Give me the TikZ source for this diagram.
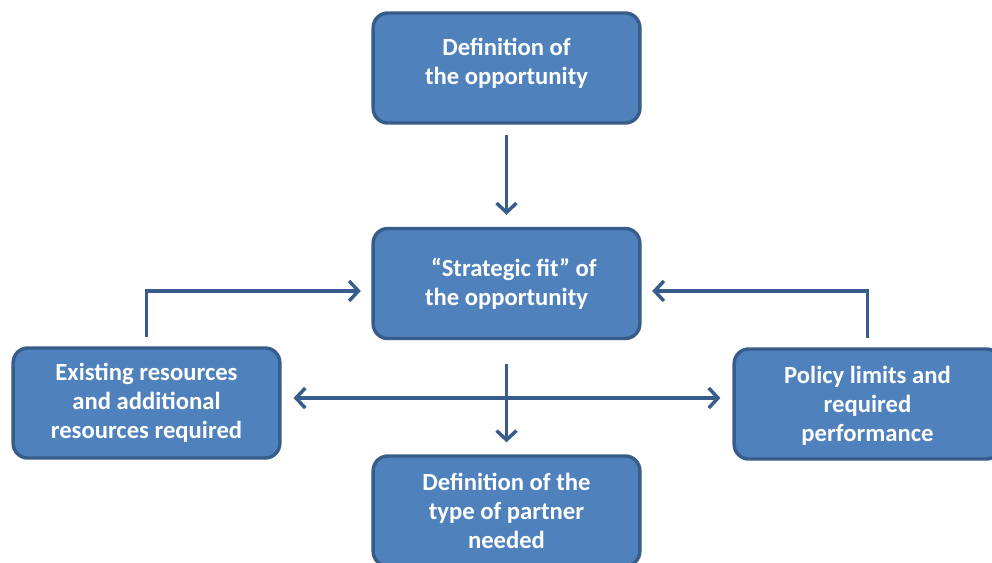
\documentclass[tikz,border=0pt]{standalone}
\usepackage{fontspec}
\setmainfont{Carlito}
\usepackage{tikz}
\usetikzlibrary{arrows.meta, positioning}
\usepackage{xcolor}
\definecolor{boxfill}{HTML}{4F81BD}
\definecolor{boxline}{HTML}{385D8A}

\begin{document}
\begin{tikzpicture}[
    x=0.75pt, y=-0.75pt,
    stepbox/.style={
        rectangle,
        rounded corners=11pt,
        minimum width=200pt,
        minimum height=82.5pt,
        fill=boxfill,
        draw=boxline,
        line width=2.6pt,
        text=white,
        align=center,
        font=\fontsize{18.5pt}{21.75pt}\selectfont\bfseries
    },
    barb/.tip={Straight Barb[length=7pt, width=15pt, line width=2.6pt]},
    link/.style={
        draw=boxline,
        line width=2.6pt,
        -barb
    }
]
\useasboundingbox (0,0) rectangle (992,562);

% Ligne 1
\node[stepbox, text depth=10pt] (opp) at (506.5,68) {Definition of\\the opportunity};

% Ligne 2
\node[stepbox] (fit) at (506.5,283.5) {\hspace*{0.6em}``Strategic fit'' of\\the opportunity};

% Ligne 3
\node[stepbox] (res) at (146.5,403) {Existing resources\\and additional\\resources required};
\node[stepbox, text depth=0pt] (pol) at (867.5,404) {Policy limits and\\required\\performance};

% Ligne 4
\node[stepbox] (part) at (506.5,511) {Definition of the\\type of partner\\needed};

% Fleches
\draw[link, shorten <=8pt, shorten >=9pt] (opp) -- (fit);
\draw[link, shorten <=7pt, shorten >=8pt] (res.north) |- ([yshift=-5.6pt]fit.west);
\draw[link, shorten <=7pt, shorten >=8pt] (pol.north) |- ([yshift=-5.6pt]fit.east);
\draw[link, barb-barb, shorten <=9pt, shorten >=9pt]
    ([yshift=3.75pt]res.east) -- ([yshift=4.5pt]pol.west);
\draw[link, shorten <=18pt, shorten >=9pt] (fit) -- (part);

\end{tikzpicture}
\end{document}
